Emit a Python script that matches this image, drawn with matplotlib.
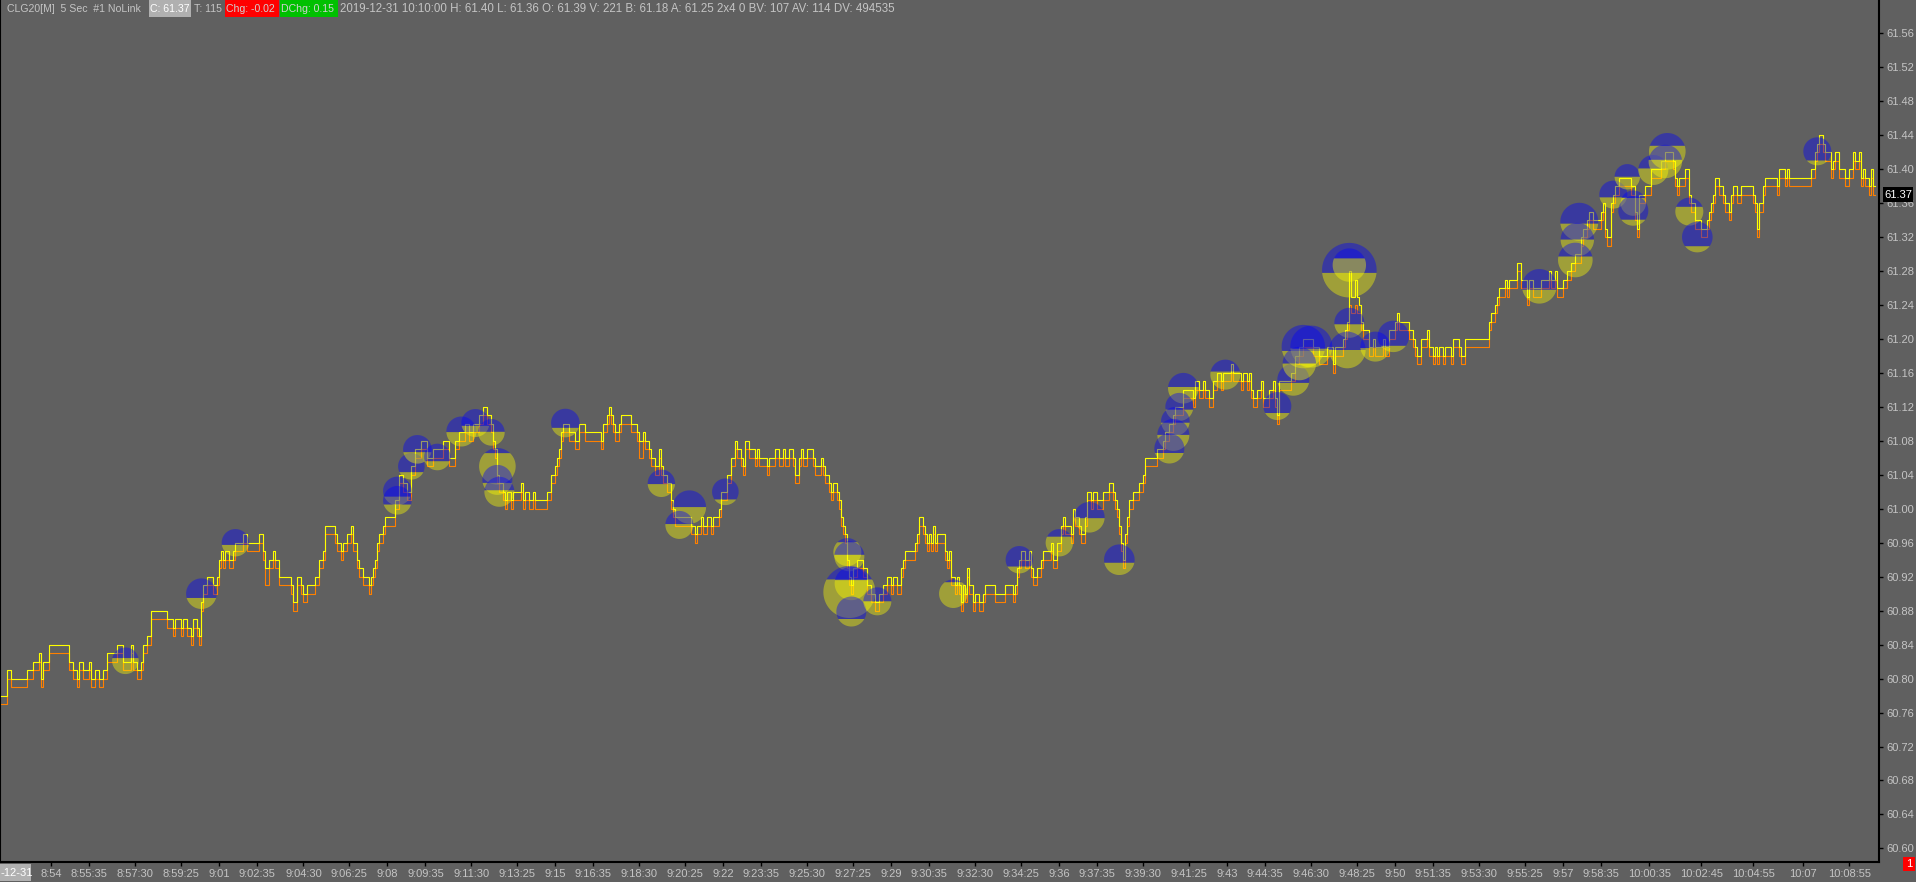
'''
Sierra-style 5 sec price chart with split volume bubbles (CLG20).
'''
import matplotlib
matplotlib.use('Agg')
import matplotlib.pyplot as plt
import numpy as np
from matplotlib.patches import Polygon, Rectangle

plt.rcParams['font.family'] = ['Liberation Sans', 'DejaVu Sans']

# bar number (5 sec bars from 8:51:50) where the price changes, prices in cents
bars = [1, 4, 6, 14, 17, 20, 21, 22, 25, 35, 37, 39, 40, 42, 45, 46, 48, 50, 52, 54,
        59, 62, 66, 67, 69, 71, 72, 74, 76, 84, 87, 88, 91, 92, 94, 96, 97, 99, 100, 101,
        102, 104, 107, 109, 110, 111, 112, 113, 115, 117, 118, 122, 124, 130, 132, 133, 135, 137, 138, 140,
        146, 147, 149, 151, 152, 154, 158, 160, 162, 163, 168, 169, 171, 172, 174, 176, 177, 179, 180, 182,
        185, 186, 187, 188, 189, 190, 192, 193, 198, 200, 202, 204, 206, 208, 211, 214, 217, 222, 225, 228,
        230, 233, 235, 237, 240, 242, 244, 246, 247, 248, 249, 250, 252, 253, 254, 256, 257, 261, 262, 263,
        265, 267, 268, 274, 276, 278, 279, 280, 281, 282, 285, 288, 290, 293, 301, 302, 304, 305, 306, 307,
        308, 310, 311, 316, 319, 320, 322, 323, 325, 326, 328, 330, 331, 332, 334, 336, 337, 338, 346, 348,
        349, 351, 352, 354, 356, 357, 360, 361, 364, 366, 368, 369, 371, 372, 373, 375, 378, 379, 380, 384,
        385, 388, 390, 392, 393, 395, 397, 398, 400, 401, 402, 404, 407, 408, 411, 412, 413, 415, 416, 417,
        419, 420, 421, 422, 423, 424, 425, 426, 427, 429, 432, 434, 436, 438, 440, 442, 444, 446, 447, 449,
        451, 452, 453, 458, 459, 460, 462, 463, 464, 465, 466, 467, 468, 469, 473, 474, 475, 476, 478, 479,
        480, 481, 482, 483, 484, 485, 487, 488, 490, 492, 493, 498, 503, 507, 508, 509, 510, 511, 513, 515,
        516, 517, 519, 521, 522, 526, 527, 529, 531, 532, 533, 536, 537, 538, 540, 541, 543, 544, 546, 547,
        549, 552, 555, 557, 558, 559, 560, 561, 562, 563, 564, 565, 567, 570, 572, 573, 579, 582, 583, 585,
        587, 588, 592, 597, 598, 600, 602, 603, 605, 607, 609, 611, 612, 616, 617, 621, 622, 624, 625, 626,
        627, 629, 631, 632, 635, 637, 638, 639, 640, 646, 648, 650, 652, 657, 660, 664, 667, 668, 672, 673,
        674, 675, 676, 678, 679, 680, 681, 682, 685, 687, 688, 692, 693, 695, 698, 699, 700, 705, 707, 708,
        709, 711, 714, 715, 717, 718, 719, 720, 722, 723, 726, 727, 730, 731, 733, 745, 746, 748, 749, 750,
        753, 754, 755, 759, 761, 764, 765, 767, 771, 775, 776, 778, 779, 782, 784, 786, 788, 791, 792, 794,
        795, 797, 801, 802, 803, 804, 806, 807, 808, 810, 816, 818, 819, 820, 823, 826, 831, 833, 837, 838,
        839, 840, 843, 845, 846, 848, 851, 854, 855, 856, 857, 858, 860, 862, 863, 865, 866, 867, 869, 871,
        877, 878, 879, 880, 882, 883, 889, 890, 893, 894, 895, 906, 908, 909, 910, 912, 913, 916, 917, 918,
        920, 923, 925, 927, 928, 930, 931, 932, 933, 935, 936, 937, 938]

upper = [6078, 6081, 6080, 6081, 6082, 6083, 6080, 6082, 6084, 6082, 6081, 6080, 6082, 6081, 6082, 6080, 6081, 6080, 6081, 6083,
         6084, 6082, 6084, 6082, 6081, 6082, 6084, 6085, 6088, 6087, 6086, 6087, 6086, 6087, 6086, 6085, 6087, 6086, 6085, 6089,
         6091, 6092, 6091, 6092, 6094, 6095, 6094, 6095, 6094, 6095, 6096, 6097, 6096, 6097, 6095, 6093, 6094, 6095, 6094, 6092,
         6091, 6089, 6092, 6091, 6090, 6091, 6092, 6094, 6095, 6098, 6097, 6096, 6095, 6096, 6097, 6098, 6096, 6094, 6093, 6092,
         6091, 6092, 6093, 6094, 6096, 6097, 6098, 6099, 6101, 6104, 6103, 6102, 6105, 6107, 6108, 6106, 6107, 6108, 6106, 6108,
         6109, 6110, 6109, 6110, 6111, 6112, 6111, 6110, 6108, 6107, 6104, 6103, 6102, 6101, 6102, 6101, 6102, 6103, 6101, 6102,
         6101, 6102, 6101, 6102, 6104, 6105, 6106, 6107, 6109, 6110, 6109, 6108, 6110, 6109, 6108, 6110, 6111, 6112, 6111, 6110,
         6109, 6110, 6111, 6110, 6109, 6108, 6109, 6108, 6107, 6106, 6105, 6107, 6105, 6104, 6103, 6101, 6100, 6099, 6098, 6097,
         6098, 6099, 6098, 6099, 6098, 6099, 6100, 6102, 6104, 6106, 6108, 6107, 6106, 6105, 6108, 6107, 6106, 6107, 6106, 6105,
         6106, 6107, 6106, 6107, 6106, 6107, 6106, 6104, 6106, 6107, 6106, 6107, 6106, 6105, 6106, 6105, 6104, 6103, 6102, 6103,
         6102, 6101, 6099, 6098, 6097, 6094, 6092, 6091, 6093, 6094, 6093, 6091, 6090, 6089, 6090, 6091, 6092, 6091, 6092, 6091,
         6093, 6094, 6095, 6096, 6097, 6099, 6098, 6097, 6096, 6097, 6096, 6098, 6096, 6097, 6095, 6094, 6095, 6092, 6091, 6092,
         6091, 6089, 6091, 6090, 6093, 6091, 6089, 6090, 6089, 6090, 6091, 6090, 6091, 6090, 6091, 6093, 6094, 6095, 6094, 6095,
         6093, 6092, 6093, 6094, 6095, 6096, 6094, 6096, 6098, 6099, 6098, 6097, 6100, 6099, 6098, 6097, 6099, 6102, 6101, 6102,
         6101, 6102, 6103, 6102, 6101, 6100, 6098, 6096, 6094, 6097, 6099, 6101, 6102, 6103, 6104, 6106, 6107, 6108, 6109, 6110,
         6111, 6112, 6114, 6113, 6115, 6114, 6115, 6114, 6113, 6115, 6116, 6115, 6116, 6117, 6116, 6115, 6116, 6115, 6116, 6114,
         6113, 6114, 6115, 6113, 6114, 6115, 6113, 6111, 6115, 6116, 6118, 6119, 6120, 6119, 6118, 6119, 6117, 6119, 6120, 6121,
         6122, 6128, 6125, 6127, 6125, 6124, 6122, 6121, 6119, 6120, 6119, 6120, 6119, 6121, 6122, 6123, 6122, 6121, 6120, 6119,
         6118, 6120, 6121, 6119, 6118, 6119, 6118, 6119, 6118, 6119, 6118, 6120, 6119, 6118, 6120, 6122, 6123, 6124, 6125, 6126,
         6127, 6126, 6127, 6129, 6127, 6125, 6127, 6126, 6127, 6128, 6127, 6128, 6126, 6127, 6128, 6129, 6130, 6132, 6133, 6134,
         6135, 6134, 6135, 6136, 6133, 6132, 6136, 6137, 6138, 6139, 6138, 6135, 6133, 6137, 6138, 6140, 6141, 6142, 6141, 6139,
         6138, 6139, 6140, 6137, 6136, 6134, 6133, 6134, 6135, 6136, 6137, 6139, 6138, 6137, 6136, 6135, 6137, 6138, 6137, 6138,
         6137, 6136, 6133, 6136, 6138, 6139, 6138, 6140, 6139, 6140, 6139, 6140, 6142, 6143, 6144, 6143, 6142, 6140, 6141, 6142,
         6140, 6139, 6140, 6142, 6141, 6142, 6139, 6140, 6139, 6138, 6140, 6138, 6138]

lower = [6077, 6080, 6079, 6080, 6081, 6082, 6079, 6081, 6083, 6081, 6080, 6079, 6081, 6080, 6081, 6079, 6080, 6079, 6080, 6082,
         6083, 6081, 6083, 6081, 6080, 6081, 6083, 6084, 6087, 6086, 6085, 6086, 6085, 6086, 6085, 6084, 6086, 6085, 6084, 6088,
         6090, 6091, 6090, 6091, 6093, 6094, 6093, 6094, 6093, 6094, 6095, 6096, 6095, 6096, 6094, 6091, 6093, 6094, 6093, 6091,
         6090, 6088, 6091, 6090, 6089, 6090, 6091, 6093, 6094, 6097, 6096, 6095, 6094, 6095, 6096, 6097, 6095, 6093, 6092, 6091,
         6090, 6091, 6092, 6093, 6095, 6096, 6097, 6098, 6100, 6103, 6102, 6101, 6104, 6106, 6107, 6105, 6106, 6107, 6105, 6107,
         6108, 6109, 6108, 6109, 6110, 6111, 6110, 6109, 6107, 6106, 6103, 6102, 6101, 6100, 6101, 6100, 6101, 6102, 6100, 6101,
         6100, 6101, 6100, 6101, 6103, 6104, 6105, 6106, 6108, 6109, 6108, 6107, 6109, 6108, 6107, 6109, 6110, 6111, 6110, 6109,
         6108, 6109, 6110, 6109, 6108, 6106, 6108, 6107, 6106, 6105, 6104, 6106, 6104, 6103, 6102, 6100, 6099, 6098, 6097, 6096,
         6097, 6098, 6097, 6098, 6097, 6098, 6099, 6101, 6103, 6105, 6107, 6106, 6105, 6104, 6107, 6106, 6105, 6106, 6105, 6104,
         6105, 6106, 6105, 6106, 6105, 6106, 6105, 6103, 6105, 6106, 6105, 6106, 6105, 6104, 6105, 6104, 6103, 6102, 6101, 6102,
         6101, 6100, 6098, 6097, 6096, 6093, 6091, 6090, 6092, 6093, 6092, 6090, 6089, 6088, 6089, 6090, 6091, 6090, 6091, 6090,
         6092, 6093, 6094, 6095, 6096, 6098, 6097, 6096, 6095, 6096, 6095, 6097, 6095, 6096, 6094, 6093, 6094, 6091, 6090, 6091,
         6090, 6088, 6090, 6089, 6092, 6090, 6088, 6089, 6088, 6089, 6090, 6089, 6090, 6089, 6090, 6092, 6093, 6094, 6093, 6094,
         6092, 6091, 6092, 6093, 6094, 6095, 6093, 6095, 6097, 6098, 6097, 6096, 6099, 6098, 6097, 6096, 6098, 6101, 6100, 6101,
         6100, 6101, 6102, 6101, 6100, 6099, 6097, 6095, 6093, 6096, 6098, 6100, 6101, 6102, 6103, 6105, 6106, 6107, 6108, 6109,
         6110, 6111, 6113, 6112, 6114, 6113, 6114, 6113, 6112, 6114, 6115, 6114, 6115, 6116, 6115, 6114, 6115, 6114, 6115, 6113,
         6112, 6113, 6114, 6112, 6113, 6114, 6112, 6110, 6114, 6115, 6117, 6118, 6119, 6118, 6117, 6118, 6116, 6118, 6119, 6120,
         6121, 6124, 6123, 6124, 6123, 6123, 6121, 6120, 6118, 6119, 6118, 6119, 6118, 6120, 6121, 6122, 6121, 6120, 6119, 6118,
         6117, 6119, 6120, 6118, 6117, 6118, 6117, 6118, 6117, 6118, 6117, 6119, 6118, 6117, 6119, 6121, 6122, 6123, 6124, 6125,
         6126, 6125, 6126, 6128, 6126, 6124, 6126, 6125, 6126, 6127, 6126, 6127, 6125, 6126, 6127, 6128, 6129, 6131, 6132, 6133,
         6134, 6133, 6134, 6135, 6132, 6131, 6135, 6136, 6137, 6138, 6137, 6134, 6132, 6136, 6137, 6139, 6140, 6141, 6140, 6138,
         6137, 6138, 6139, 6136, 6135, 6133, 6132, 6133, 6134, 6135, 6136, 6138, 6137, 6136, 6135, 6134, 6136, 6137, 6136, 6137,
         6136, 6135, 6132, 6135, 6137, 6138, 6137, 6139, 6138, 6139, 6138, 6139, 6141, 6142, 6143, 6142, 6141, 6139, 6140, 6141,
         6139, 6138, 6139, 6141, 6140, 6141, 6138, 6139, 6138, 6137, 6139, 6137, 6137]

# volume bubbles: bar, price, radius (px), share of the bubble that is ask (blue)
bub_bar = [63, 101, 118, 199, 199, 206, 209, 219, 231, 238, 246, 249, 249, 250, 283, 331, 345, 340, 363, 424,
           425, 425, 426, 426, 439, 477, 510, 530, 545, 560, 592, 590, 588, 587, 585, 613, 639, 647, 652, 656,
           650, 675, 675, 675, 674, 688, 697, 770, 790, 789, 788, 807, 814, 817, 817, 827, 834, 833, 845, 849, 909]
bub_price = [60.821, 60.900, 60.960, 61.021, 61.010, 61.050, 61.070, 61.061, 61.091, 61.101,
             61.090, 61.050, 61.034, 61.020, 61.101, 61.030, 61.002, 60.981, 61.020, 60.949,
             60.944, 60.902, 60.912, 60.879, 60.891, 60.900, 60.940, 60.960, 60.990, 60.940,
             61.142, 61.120, 61.103, 61.087, 61.071, 61.158, 61.121, 61.152, 61.191, 61.191,
             61.171, 61.281, 61.287, 61.219, 61.187, 61.191, 61.203, 61.262, 61.338, 61.317,
             61.293, 61.370, 61.391, 61.360, 61.351, 61.399, 61.421, 61.409, 61.350, 61.320, 61.421]
bub_radius = [13.3, 15.3, 13.7, 14.3, 14.3, 13.3, 14.3, 13.3, 15, 14,
              13.3, 18.3, 15, 15, 14.3, 13.7, 16.7, 14, 13.3, 14,
              15, 26, 16.7, 15, 14, 14.3, 13.7, 13.7, 15.3, 15.3,
              15.3, 14, 14.3, 16, 15, 15, 14, 16, 21.7, 21,
              16.7, 27.3, 16.7, 15, 18.3, 15, 15.7, 17.3, 19, 16.7,
              17.3, 14, 12.7, 12.7, 15, 15, 18.3, 16.7, 14, 15.3, 14]
bub_blue = [0.4, 0.64, 0.58, 0.7, 0.65, 0.72, 0.6, 0.66, 0.52, 0.6,
            0.48, 0.14, 0.6, 0.45, 0.67, 0.53, 0.5, 0.47, 0.79, 0.15,
            0.45, 0.26, 0.4, 0.75, 0.5, 0.1, 0.75, 0.28, 0.53, 0.6,
            0.46, 0.6, 0.55, 0.5, 0.65, 0.4, 0.75, 0.6, 0.6, 0.55,
            0.5, 0.55, 0.3, 0.55, 0.5, 0.55, 0.8, 0.6, 0.55, 0.5,
            0.4, 0.6, 0.5, 0.3, 0.8, 0.45, 0.35, 0.45, 0.33, 0.8, 0.83]

first_bar = '8:51:50'
time_labels = ['8:54', '8:55:35', '8:57:30', '8:59:25', '9:01', '9:02:35', '9:04:30', '9:06:25',
               '9:08', '9:09:35', '9:11:30', '9:13:25', '9:15', '9:16:35', '9:18:30', '9:20:25',
               '9:22', '9:23:35', '9:25:30', '9:27:25', '9:29', '9:30:35', '9:32:30', '9:34:25',
               '9:36', '9:37:35', '9:39:30', '9:41:25', '9:43', '9:44:35', '9:46:30', '9:48:25',
               '9:50', '9:51:35', '9:53:30', '9:55:25', '9:57', '9:58:35', '10:00:35', '10:02:45',
               '10:04:55', '10:07', '10:08:55']
price_ticks = [60.60, 60.64, 60.68, 60.72, 60.76, 60.80, 60.84, 60.88, 60.92, 60.96, 61.00,
               61.04, 61.08, 61.12, 61.16, 61.20, 61.24, 61.28, 61.32, 61.36, 61.40, 61.44,
               61.48, 61.52, 61.56]

BG = '#606060'
TXT = '#c4c4c4'
W, H = 1916, 882


def secs(label):
    parts = [int(v) for v in label.split(':')]
    while len(parts) < 3:
        parts.append(0)
    return parts[0] * 3600 + parts[1] * 60 + parts[2]


def tag(x0, x1, y0, y1, txt, bg, fg, ha='left', tx=None, size=8):
    '''box + text, coords in figure pixels from the top left'''
    fig.patches.append(Rectangle((x0 / W, 1 - y1 / H), (x1 - x0) / W, (y1 - y0) / H,
                                 transform=fig.transFigure, fc=bg, ec='none', zorder=5))
    if tx is None:
        tx = x0 + 1
    fig.text(tx / W, 1 - (y0 + y1) / 2 / H, txt, ha=ha, va='center',
             fontsize=size, color=fg, zorder=6)


def label(x0, txt, size=8):
    fig.text(x0 / W, 1 - 9 / H, txt, ha='left', va='center',
             fontsize=size, color=TXT, zorder=6)


fig = plt.figure(figsize=(W / 100, H / 100), dpi=100, facecolor=BG)
ax = fig.add_axes([0, 20 / H, 1879.3 / W, 862 / H])
ax.set_facecolor(BG)
ax.set_xlim(0.3, 940)
ax.set_ylim(60.584, 61.5992)

x = np.array(bars)
ax.plot(x, np.array(lower) / 100, color='#ff8000', lw=0.8, drawstyle='steps-post', zorder=2)
ax.plot(x, np.array(upper) / 100, color='#ffff00', lw=0.8, drawstyle='steps-post', zorder=3)

# bubbles: circle in screen pixels, ask part on top, bid part below
th = np.linspace(0, 2 * np.pi, 120)
inv = ax.transData.inverted()
for b, p, r, s in zip(bub_bar, bub_price, bub_radius, bub_blue):
    cx, cy = ax.transData.transform((b, p))
    xs = cx + r * np.cos(th)
    ys = cy + r * np.sin(th)
    cut = cy + r - 2 * r * s
    top = inv.transform(np.column_stack([xs, np.maximum(ys, cut)]))
    bot = inv.transform(np.column_stack([xs, np.minimum(ys, cut)]))
    ax.add_patch(Polygon(top, closed=True, fc='#0000ff', ec='none', alpha=0.4, zorder=4))
    ax.add_patch(Polygon(bot, closed=True, fc='#ffff00', ec='none', alpha=0.4, zorder=4))

# axes look
ax.spines['top'].set_visible(False)
for side in ['right', 'bottom', 'left']:
    ax.spines[side].set_color('black')
    ax.spines[side].set_linewidth(1.5)

ax.yaxis.tick_right()
ax.set_yticks(price_ticks)
ax.set_yticklabels(['%.2f' % v for v in price_ticks])
ax.tick_params(axis='y', direction='out', length=3, width=1, color='black',
               labelcolor=TXT, labelsize=8, pad=2)

t0 = secs(first_bar)
ax.set_xticks([(secs(t) - t0) / 5 for t in time_labels])
ax.set_xticklabels(time_labels)
ax.tick_params(axis='x', direction='out', length=3, width=1, color='black',
               labelcolor=TXT, labelsize=8, pad=2)

# header line
label(6.7, 'CLG20[M]  5 Sec  #1 NoLink', size=7.6)
tag(148.7, 191, 0, 17, 'C: 61.37', '#b0b0b0', 'white', size=7.6)
label(193.5, 'T: 115', size=7.6)
tag(224.5, 279, 0, 17, 'Chg: -0.02', '#ff0000', '#d0d0d0', size=7.6)
tag(280, 338, 0, 17, 'DChg: 0.15', '#00c000', '#d0d0d0', size=7.6)
label(340, '2019-12-31 10:10:00 H: 61.40 L: 61.36 O: 61.39 V: 221 B: 61.18 A: 61.25 '
           '2x4 0 BV: 107 AV: 114 DV: 494535', size=8.3)

# last price marker, date tag, red counter
tag(1883, 1913, 187.5, 202, '61.37', 'black', 'white', tx=1884)
tag(0, 31, 864, 881, '-12-31', '#b0b0b0', 'white', tx=0.5)
tag(1903, 1915, 857, 871, '1', '#ff0000', 'white', ha='center', tx=1909)

fig.savefig('out.png', dpi=100, facecolor=BG)
